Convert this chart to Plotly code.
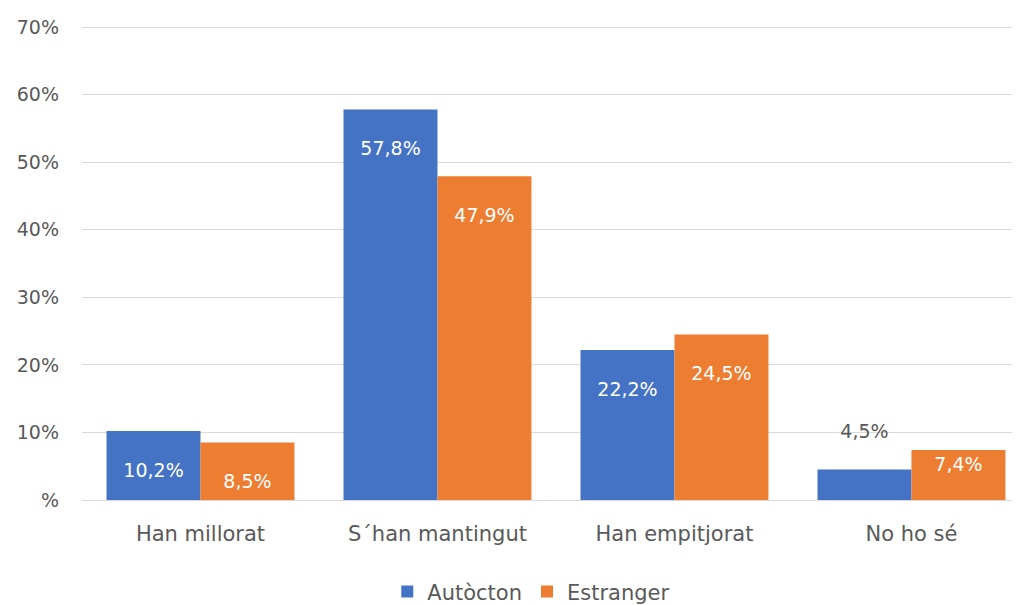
import plotly.graph_objects as go

categories = ["Han millorat", "S´han mantingut", "Han empitjorat", "No ho sé"]
autocton = [0.102, 0.578, 0.222, 0.045]
estranger = [0.085, 0.479, 0.245, 0.074]
tick_vals = [0, 0.1, 0.2, 0.3, 0.4, 0.5, 0.6, 0.7]
tick_text = ["%", "10%", "20%", "30%", "40%", "50%", "60%", "70%"]

FONT = "DejaVu Sans"
GREY = "#595959"


def label_pos(values, limit=0.06):
    return ["inside" if v >= limit else "outside" for v in values]


def label_color(values, limit=0.06):
    return ["white" if v >= limit else GREY for v in values]


def label_text(values):
    # Excel puts "inside end" labels a bit lower than plotly does,
    # so pad with an empty line where the bar is tall enough
    out = []
    for v in values:
        if v >= 0.08:
            out.append("\u00a0<br>%{y:.1%}")
        elif v >= 0.06:
            out.append("%{y:.1%}")
        else:
            out.append("%{y:.1%}<br>\u00a0")
    return out


fig = go.Figure()
for name, vals, color in [("Autòcton", autocton, "#4472C4"),
                          ("Estranger", estranger, "#ED7D31")]:
    fig.add_trace(go.Bar(
        x=categories,
        y=vals,
        name=name,
        marker=dict(color=color, line=dict(width=0)),
        texttemplate=label_text(vals),
        textposition=label_pos(vals),
        insidetextanchor="end",
        textfont=dict(family=FONT, size=19, color=label_color(vals)),
        cliponaxis=False,
    ))

# the page body has an 8px margin, so the figure is sized to fit inside it
fig.update_layout(
    width=1012,
    height=597,
    separators=",.",
    barmode="group",
    bargap=0.207,
    bargroupgap=0,
    plot_bgcolor="white",
    paper_bgcolor="white",
    font=dict(family=FONT, size=19, color=GREY),
    margin=dict(l=74, r=0, t=18, b=105, autoexpand=False),
    legend=dict(
        orientation="h",
        x=0.479,
        y=-0.194,
        xanchor="center",
        yanchor="middle",
        font=dict(size=21, color=GREY),
        itemwidth=30,
    ),
    xaxis=dict(
        range=[-0.5, 3.458],
        showgrid=False,
        showline=False,
        ticks="",
        tickfont=dict(size=21, color=GREY),
        ticklabelstandoff=19,
    ),
    yaxis=dict(
        range=[0, 0.7015],
        tickvals=tick_vals,
        ticktext=tick_text,
        showgrid=True,
        gridcolor="#D9D9D9",
        gridwidth=1,
        zeroline=True,
        zerolinecolor="#D9D9D9",
        zerolinewidth=1,
        showline=False,
        ticks="",
        tickfont=dict(size=19, color=GREY),
        ticklabelstandoff=22,
    ),
)

fig.write_html("out.html")
